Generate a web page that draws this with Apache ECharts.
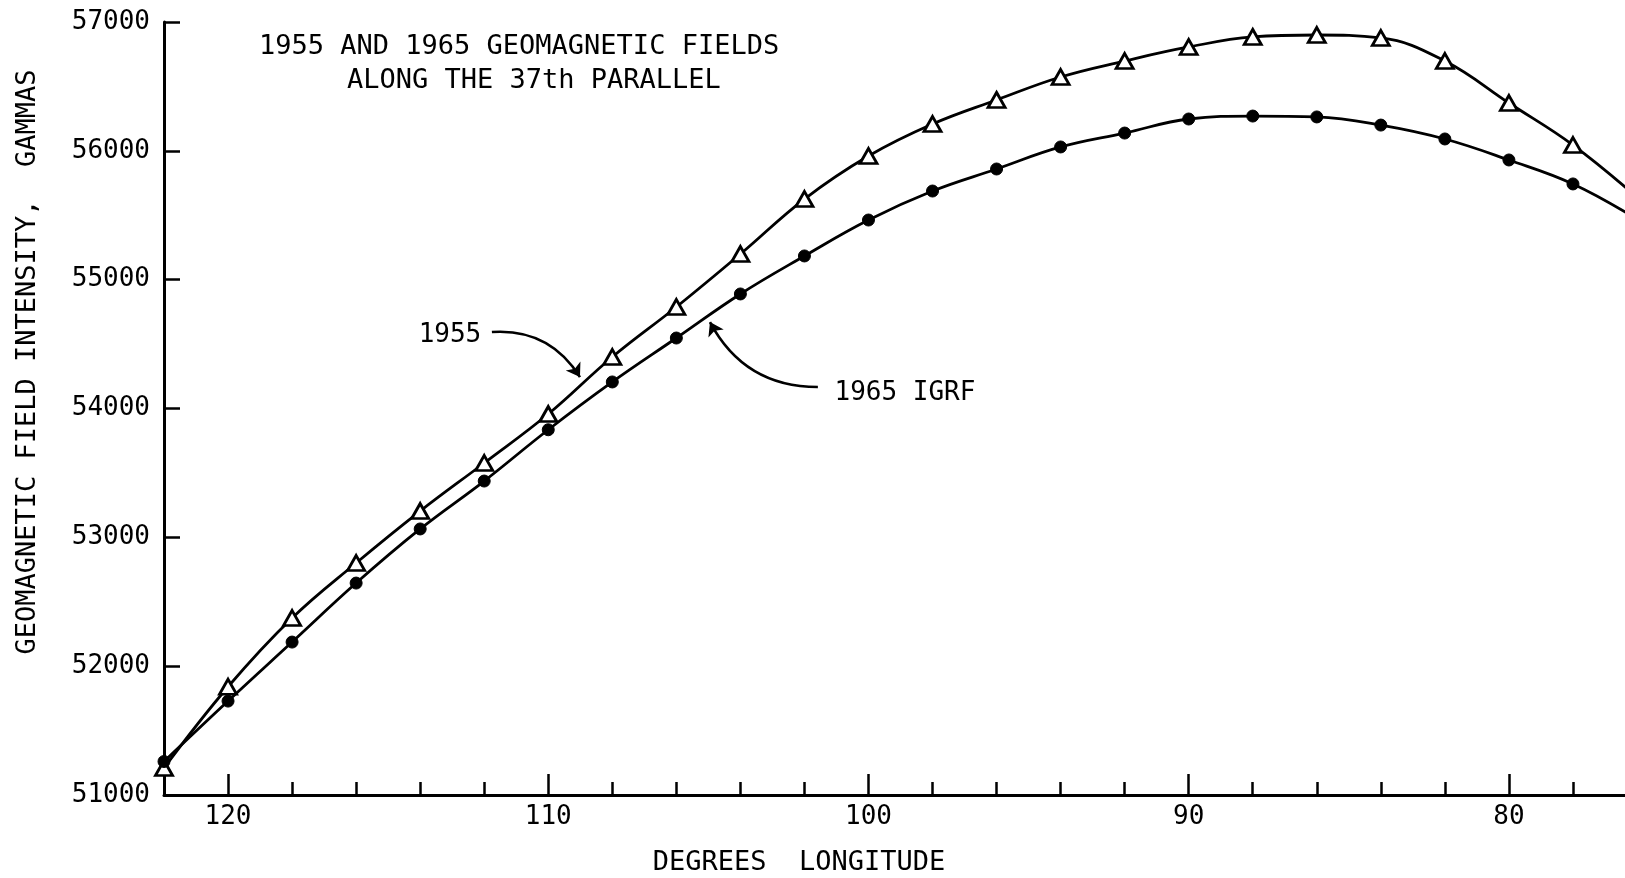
<!DOCTYPE html>
<html>
<head>
<meta charset="utf-8">
<script src="https://cdn.jsdelivr.net/npm/echarts@6/dist/echarts.min.js"></script>
<style>
  html, body { margin: 0; padding: 0; background: #ffffff; }
  #chart { width: 1625px; height: 878px; }
</style>
</head>
<body>
<div id="chart"></div>
<script>
// ---- data ----
var longitudes = [122, 120, 118, 116, 114, 112, 110, 108, 106, 104, 102, 100, 98, 96, 94, 92, 90, 88, 86, 84, 82, 80, 78, 76];
var field1955 = [51210, 51840, 52374, 52801, 53204, 53577, 53957, 54400, 54788, 55199, 55626, 55960, 56208, 56395, 56573, 56697, 56806, 56884, 56899, 56876, 56697, 56371, 56045, 55640];
var field1965 = [51260, 51729, 52187, 52645, 53065, 53437, 53835, 54206, 54547, 54889, 55184, 55463, 55688, 55859, 56030, 56138, 56247, 56270, 56263, 56200, 56092, 55929, 55743, 55470];
var xMajorTicks = [80, 90, 100, 110, 120];
var yRange = [51000, 57000];
var xRange = [76, 122];
var titleLines = ['1955 AND 1965 GEOMAGNETIC FIELDS', 'ALONG THE 37th PARALLEL'];
var xAxisName = 'DEGREES  LONGITUDE';
var yAxisName = 'GEOMAGNETIC FIELD INTENSITY,  GAMMAS';
var labels = [
  { text: '1955', at: [113.07, 54570] },
  { text: '1965 IGRF', at: [98.86, 54120] }
];
var arrows = [
  { from: [111.76, 54594], to: [109.01, 54244], curveness: 0.3 },
  { from: [101.58, 54167], to: [104.95, 54671], curveness: 0.3 }
];

var FONT = '"DejaVu Sans Mono", monospace';
var INK = '#000000';

function pairs(xs, ys) { return xs.map(function (x, i) { return [x, ys[i]]; }); }

var chart = echarts.init(document.getElementById('chart'), null, { renderer: 'canvas' });

var option = {
  animation: false,
  backgroundColor: '#ffffff',
  grid: { left: 164, top: 22, bottom: 83, right: -12, outerBoundsMode: 'none', containLabel: false },
  xAxis: [
    {
      type: 'value', position: 'bottom', inverse: true,
      min: xRange[0], max: xRange[1], interval: 2,
      axisLine: { show: true, onZero: false, lineStyle: { color: INK, width: 3 } },
      axisTick: { show: true, inside: true, length: 13, lineStyle: { color: INK, width: 2.5 } },
      axisLabel: { show: false },
      splitLine: { show: false }
    },
    {
      type: 'value', position: 'bottom', inverse: true,
      min: xRange[0], max: xRange[1],
      axisLine: { show: false, onZero: false },
      axisTick: { show: true, inside: true, length: 21, customValues: xMajorTicks, lineStyle: { color: INK, width: 2.5 } },
      axisLabel: { show: true, customValues: xMajorTicks, margin: 9, color: INK, fontSize: 26, fontFamily: FONT },
      splitLine: { show: false }
    }
  ],
  yAxis: {
    type: 'value',
    min: yRange[0], max: yRange[1], interval: 1000,
    axisLine: { show: true, onZero: false, lineStyle: { color: INK, width: 3 } },
    axisTick: { show: true, inside: true, length: 16, lineStyle: { color: INK, width: 2.5 } },
    axisLabel: { show: true, margin: 14, color: INK, fontSize: 26, fontFamily: FONT, formatter: function (v) { return String(v); } },
    splitLine: { show: false }
  },
  graphic: [
    { type: 'text', left: 259, top: 33, style: { text: titleLines[0], fill: INK, font: '27px ' + FONT } },
    { type: 'text', left: 347, top: 67, style: { text: titleLines[1], fill: INK, font: '27px ' + FONT } },
    { type: 'text', x: 799, y: 863, style: { text: xAxisName, fill: INK, font: '27px ' + FONT, textAlign: 'center', textVerticalAlign: 'middle' } },
    { type: 'text', x: 28, y: 362, rotation: Math.PI / 2, style: { text: yAxisName, fill: INK, font: '27px ' + FONT, textAlign: 'center', textVerticalAlign: 'middle' } }
  ],
  series: [
    {
      type: 'line',
      name: '1955',
      data: pairs(longitudes, field1955),
      smooth: 0.4,
      symbol: 'triangle',
      symbolSize: [17, 15],
      showAllSymbol: true,
      lineStyle: { color: INK, width: 2.8 },
      itemStyle: { color: '#ffffff', borderColor: INK, borderWidth: 2.8 },
      z: 3,
      markPoint: {
        silent: true,
        symbol: 'rect',
        symbolSize: 0,
        itemStyle: { color: 'transparent' },
        label: { show: true, position: 'inside', formatter: function (p) { return p.name; }, color: INK, fontSize: 26, fontFamily: FONT },
        data: labels.map(function (l) { return { name: l.text, coord: l.at }; })
      }
    },
    {
      type: 'line',
      name: '1965 IGRF',
      data: pairs(longitudes, field1965),
      smooth: 0.4,
      symbol: 'circle',
      symbolSize: 12,
      showAllSymbol: true,
      lineStyle: { color: INK, width: 2.8 },
      itemStyle: { color: INK, borderColor: INK, borderWidth: 1 },
      z: 3
    },
    {
      type: 'lines',
      coordinateSystem: 'cartesian2d',
      silent: true,
      symbol: ['none', 'arrow'],
      symbolSize: 13,
      lineStyle: { color: INK, width: 2.6, opacity: 1 },
      data: arrows.map(function (a) {
        return { coords: [a.from, a.to], lineStyle: { curveness: a.curveness } };
      }),
      z: 4
    }
  ]
};

chart.setOption(option);
</script>
</body>
</html>
